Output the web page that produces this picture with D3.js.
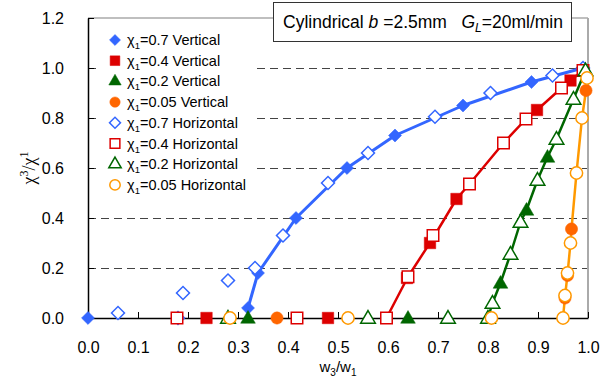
<!DOCTYPE html>
<html>
<head>
<meta charset="utf-8">
<script src="https://cdn.jsdelivr.net/npm/d3@7"></script>
<style>
  body { margin: 0; background: #fff; }
  svg { font-family: Arial, "Liberation Sans", sans-serif; }
</style>
</head>
<body>
<div id="chart"></div>
<script>
// data: [w3/w1, x3/x1]
const blueFilled = [[0, 0], [0.32, 0.04], [0.34, 0.18], [0.416, 0.40], [0.518, 0.60], [0.614, 0.73], [0.75, 0.85], [0.887, 0.944]];
const blueOpen = [[0.06, 0.02], [0.18, 0.0], [0.19, 0.10], [0.28, 0.15], [0.334, 0.20], [0.39, 0.33], [0.48, 0.54], [0.56, 0.66], [0.694, 0.805], [0.805, 0.90], [0.929, 0.97], [0.99, 1.0]];
const redFilled = [[0.237, 0], [0.48, 0], [0.638, 0.16], [0.684, 0.30], [0.737, 0.476], [0.898, 0.832], [0.965, 0.95]];
const redOpen = [[0.178, 0], [0.418, 0], [0.597, 0], [0.64, 0.165], [0.69, 0.33], [0.763, 0.536], [0.831, 0.70], [0.876, 0.796], [0.947, 0.92], [0.99, 0.99]];
const greenFilled = [[0.32, 0], [0.64, 0], [0.825, 0.14], [0.877, 0.432], [0.919, 0.644]];
const greenOpen = [[0.28, 0], [0.56, 0], [0.72, 0], [0.80, 0], [0.809, 0.06], [0.845, 0.256], [0.865, 0.384], [0.899, 0.552], [0.937, 0.716], [0.971, 0.876], [0.995, 0.99]];
const orangeFilled = [[0.378, 0], [0.954, 0.08], [0.959, 0.17], [0.967, 0.356], [0.996, 0.91]];
const orangeOpen = [[0.284, 0], [0.52, 0], [0.807, 0], [0.95, 0], [0.954, 0.09], [0.959, 0.18], [0.965, 0.30], [0.977, 0.58], [0.988, 0.80], [0.998, 0.96]];

// fitted curves drawn through the points
const blueFit = [[0.32, 0.04], [0.34, 0.18], [0.416, 0.40], [0.518, 0.60], [0.614, 0.73], [0.75, 0.85], [0.887, 0.944], [0.99, 1.0]];
const redFit = [[0.597, 0], [0.64, 0.165], [0.687, 0.31], [0.737, 0.476], [0.763, 0.536], [0.831, 0.70], [0.876, 0.796], [0.898, 0.832], [0.947, 0.92], [0.965, 0.95], [0.99, 0.99]];
const greenFit = [[0.80, 0], [0.809, 0.06], [0.825, 0.14], [0.845, 0.256], [0.865, 0.384], [0.877, 0.432], [0.899, 0.552], [0.919, 0.644], [0.937, 0.716], [0.971, 0.876], [0.995, 0.99]];
const orangeFit = [[0.95, 0], [0.954, 0.085], [0.959, 0.175], [0.965, 0.30], [0.967, 0.356], [0.977, 0.58], [0.988, 0.80], [0.996, 0.91], [0.998, 0.96]];

const xTicks = [0, 0.1, 0.2, 0.3, 0.4, 0.5, 0.6, 0.7, 0.8, 0.9, 1.0];
const yTicks = [0, 0.2, 0.4, 0.6, 0.8, 1.0, 1.2];
const gridTicks = [0.2, 0.4, 0.6, 0.8, 1.0];
const legendLabels = ["=0.7 Vertical", "=0.4 Vertical", "=0.2 Vertical", "=0.05 Vertical",
                      "=0.7 Horizontal", "=0.4 Horizontal", "=0.2 Horizontal", "=0.05 Horizontal"];

const width = 612, height = 380;
const margin = { left: 88, right: 24, top: 18, bottom: 62 };

const blue = "#3366ff", red = "#dd0000", green = "#006600", orangeF = "#ff6600", orangeO = "#ff9900";

// each series: data, colour, marker shape, filled?
const series = [
    { data: blueFilled, color: blue, shape: "diamond", filled: true },
    { data: redFilled, color: red, shape: "square", filled: true },
    { data: greenFilled, color: green, shape: "triangle", filled: true },
    { data: orangeFilled, color: orangeF, shape: "circle", filled: true },
    { data: blueOpen, color: blue, shape: "diamond", filled: false },
    { data: redOpen, color: red, shape: "square", filled: false },
    { data: greenOpen, color: green, shape: "triangle", filled: false },
    { data: orangeOpen, color: orangeO, shape: "circle", filled: false }
];
const fits = [
    { data: blueFit, color: blue, w: 3 },
    { data: redFit, color: red, w: 2.5 },
    { data: greenFit, color: green, w: 2.5 },
    { data: orangeFit, color: orangeO, w: 2.5 }
];

let svg = d3.select("#chart")
    .append("svg")
    .attr("width", width)
    .attr("height", height);

let x = d3.scaleLinear().domain([0, 1]).range([margin.left, width - margin.right]);
let y = d3.scaleLinear().domain([0, 1.2]).range([height - margin.bottom, margin.top]);

// grid
svg.append("g")
    .selectAll("line")
    .data(gridTicks)
    .join("line")
    .attr("x1", x(0)).attr("x2", x(1))
    .attr("y1", d => Math.round(y(d)) + 0.5).attr("y2", d => Math.round(y(d)) + 0.5)
    .attr("stroke", "#444")
    .attr("stroke-width", 1)
    .attr("stroke-dasharray", "8,5");

// frame top + right (gray)
svg.append("line")
    .attr("x1", x(0)).attr("x2", x(1))
    .attr("y1", y(1.2)).attr("y2", y(1.2))
    .attr("stroke", "#aaa").attr("stroke-width", 1.5);
svg.append("line")
    .attr("x1", x(1)).attr("x2", x(1))
    .attr("y1", y(1.2)).attr("y2", y(0))
    .attr("stroke", "#aaa").attr("stroke-width", 2);

// axes with inside ticks
let xAxis = svg.append("g")
    .attr("transform", `translate(0, ${y(0)})`)
    .call(d3.axisBottom(x).tickValues(xTicks).tickFormat(d3.format(".1f")).tickSizeInner(-6).tickSizeOuter(0).tickPadding(24));
let yAxis = svg.append("g")
    .attr("transform", `translate(${x(0)}, 0)`)
    .call(d3.axisLeft(y).tickValues(yTicks).tickFormat(d3.format(".1f")).tickSizeInner(-6).tickSizeOuter(0).tickPadding(24));
[xAxis, yAxis].forEach(function (a) {
    a.selectAll("text").attr("font-size", 16).attr("fill", "#000").attr("font-family", "Arial, 'Liberation Sans', sans-serif");
    a.selectAll("line").attr("stroke", "#000");
    a.select(".domain").attr("stroke", "#000").attr("stroke-width", 1.5);
});

// fitted lines
let line = d3.line()
    .x(d => x(d[0]))
    .y(d => y(d[1]));
svg.append("g")
    .selectAll("path")
    .data(fits)
    .join("path")
    .attr("d", d => line(d.data))
    .attr("fill", "none")
    .attr("stroke", d => d.color)
    .attr("stroke-width", d => d.w)
    .attr("stroke-linejoin", "round");

// marker path generator
function markerPath(shape, s) {
    if (shape === "diamond") return d3.symbol(d3.symbolSquare, s * s * 0.5)();
    if (shape === "square") return d3.symbol(d3.symbolSquare, s * s * 0.78)();
    if (shape === "triangle") return d3.symbol(d3.symbolTriangle, s * s * 0.55)();
    return d3.symbol(d3.symbolCircle, s * s * 0.7)();
}
function drawMarker(sel, d, s) {
    sel.attr("d", markerPath(d.shape, s))
        .attr("fill", d.filled ? d.color : "#fff")
        .attr("stroke", d.color)
        .attr("stroke-width", d.filled ? 0.5 : 1.5);
}

series.forEach(function (sr) {
    svg.append("g")
        .selectAll("path")
        .data(sr.data)
        .join("path")
        .each(function () { drawMarker(d3.select(this), sr, 13); })
        .attr("transform", function (d) {
            let t = `translate(${x(d[0])}, ${y(d[1])})`;
            if (sr.shape === "diamond") t += " rotate(45)";
            if (sr.shape === "triangle") t += " translate(0, 1)";
            return t;
        });
});

// legend
let legend = svg.append("g");
legend.append("rect")
    .attr("x", 97).attr("y", 29).attr("width", 156).attr("height", 166)
    .attr("fill", "#fff");
let rows = legend.selectAll("g")
    .data(series)
    .join("g")
    .attr("transform", (d, i) => `translate(115, ${40 + i * 20.7})`);
rows.append("path")
    .each(function (d) { drawMarker(d3.select(this), d, 11); })
    .attr("transform", d => d.shape === "diamond" ? "rotate(45)" : "");
let lt = rows.append("text")
    .attr("x", 12)
    .attr("y", 5)
    .attr("font-size", 14.5)
    .attr("fill", "#000");
lt.append("tspan").text("\u03c7");
lt.append("tspan").attr("font-size", 9.5).attr("dy", 4).text("1");
lt.append("tspan").attr("dy", -4).text((d, i) => legendLabels[i]);

// title box
svg.append("rect")
    .attr("x", 273.5).attr("y", 2.5).attr("width", 298).attr("height", 39)
    .attr("fill", "#fff").attr("stroke", "#333").attr("stroke-width", 1);
let title = svg.append("text")
    .attr("x", 283).attr("y", 28)
    .attr("font-size", 17.5).attr("fill", "#000");
title.append("tspan").text("Cylindrical ");
title.append("tspan").attr("font-style", "italic").text("b");
title.append("tspan").text(" =2.5mm\u00a0\u00a0\u00a0");
title.append("tspan").attr("font-style", "italic").text("G");
title.append("tspan").attr("font-style", "italic").attr("font-size", 12).attr("dy", 4).text("L");
title.append("tspan").attr("dy", -4).text("=20ml/min");

// axis titles
let xl = svg.append("text")
    .attr("x", x(0.5)).attr("y", 372)
    .attr("text-anchor", "middle")
    .attr("font-size", 15).attr("fill", "#000");
xl.append("tspan").text("w");
xl.append("tspan").attr("font-size", 10).attr("dy", 4).text("3");
xl.append("tspan").attr("dy", -4).text("/w");
xl.append("tspan").attr("font-size", 10).attr("dy", 4).text("1");

let yl = svg.append("text")
    .attr("transform", `translate(35, ${y(0.6)}) rotate(-90)`)
    .attr("text-anchor", "middle")
    .attr("font-size", 18).attr("fill", "#000")
    .attr("font-family", "'Liberation Serif', 'DejaVu Serif', serif");
yl.append("tspan").text("\u03c7");
yl.append("tspan").attr("font-size", 12).attr("dy", -7).text("3");
yl.append("tspan").attr("dy", 7).text("/\u03c7");
yl.append("tspan").attr("font-size", 12).attr("dy", -7).text("1");
</script>
</body>
</html>
